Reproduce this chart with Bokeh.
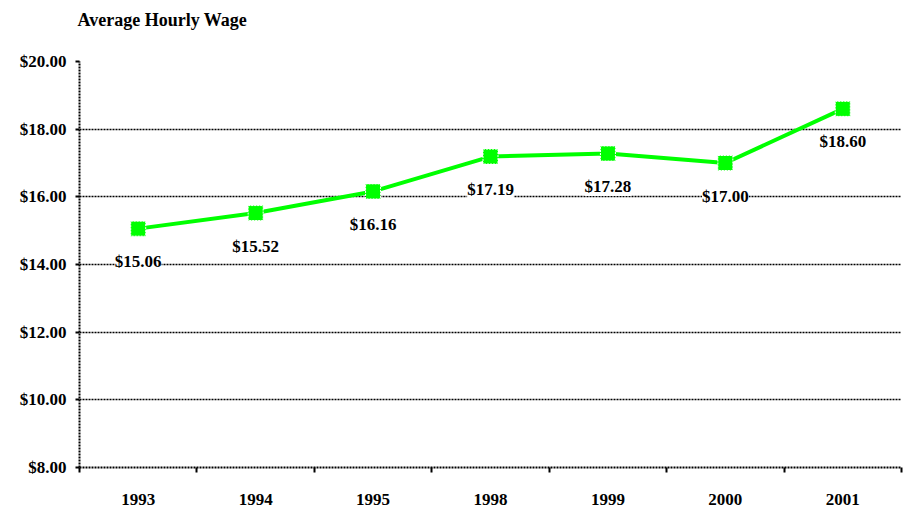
from bokeh.plotting import figure
from bokeh.models import (ColumnDataSource, FixedTicker, NumeralTickFormatter,
                          LabelSet, Range1d, Title)
from bokeh.embed import file_html
from bokeh.resources import INLINE

years = ["1993", "1994", "1995", "1998", "1999", "2000", "2001"]
wages = [15.06, 15.52, 16.16, 17.19, 17.28, 17.00, 18.60]
y_ticks = [8, 10, 12, 14, 16, 18, 20]
title_text = "Average Hourly Wage"

FONT = "Liberation Serif"
xs = list(range(1, len(years) + 1))
src = ColumnDataSource(dict(x=xs, y=wages, lab=["$%.2f" % w for w in wages]))

x_lo, x_hi = 0.5, len(years) + 0.5
y_lo, y_hi = min(y_ticks), max(y_ticks)

p = figure(width=905, height=507, output_backend="svg", toolbar_location=None,
           title=None,
           x_range=Range1d(x_lo, x_hi), y_range=Range1d(y_lo, y_hi),
           min_border_left=79, min_border_right=4, min_border_top=61, min_border_bottom=40)
p.outline_line_color = None
p.background_fill_color = "white"

# spacer between the plot frame and the title (nearest the frame)
spacer = Title(text=" ", text_font_size="1px", standoff=24)
p.add_layout(spacer, "above")
main_title = Title(text=title_text, text_font=FONT, text_font_size="18px",
                   text_font_style="bold", text_color="black", align="left",
                   offset=-2, standoff=10)
p.add_layout(main_title, "above")

# y axis
p.yaxis.ticker = FixedTicker(ticks=y_ticks)
p.yaxis.formatter = NumeralTickFormatter(format="$0.00")
p.yaxis.major_tick_in = 0
p.yaxis.major_tick_out = 4
p.yaxis.minor_tick_line_color = None
p.yaxis.axis_line_dash = "2 1"
p.yaxis.axis_line_width = 2
p.yaxis.major_tick_line_width = 2
p.yaxis.major_label_standoff = 9

# x axis
p.xaxis.ticker = FixedTicker(ticks=xs, minor_ticks=[i + 0.5 for i in range(0, len(years) + 1)])
p.xaxis.major_label_overrides = {i: y for i, y in zip(xs, years)}
p.xaxis.major_tick_in = 0
p.xaxis.major_tick_out = 0
p.xaxis.minor_tick_in = 0
p.xaxis.minor_tick_out = 5
p.xaxis.minor_tick_line_width = 2
p.xaxis.axis_line_dash = "2 1"
p.xaxis.axis_line_width = 2
p.xaxis.major_label_standoff = 21

for ax in (p.xaxis, p.yaxis):
    ax.major_label_text_font = FONT
    ax.major_label_text_font_size = "17px"
    ax.major_label_text_font_style = "bold"
    ax.major_label_text_color = "black"
    ax.axis_line_color = "black"

p.xgrid.grid_line_color = None
p.ygrid.grid_line_color = "black"
p.ygrid.grid_line_dash = "2 1"
p.ygrid.grid_line_width = 1.5

labels = LabelSet(x="x", y="y", text="lab", source=src, y_offset=-33,
                  text_align="center", text_baseline="middle",
                  text_font=FONT, text_font_size="17px", text_font_style="bold",
                  text_color="black", background_fill_color="white",
                  level="underlay")
p.add_layout(labels)

p.line("x", "y", source=src, line_color="#00ff00", line_width=4)
p.scatter("x", "y", source=src, marker="square", size=15, fill_color="#00ff00",
          line_color="white", line_width=1, line_dash="2 1")

open("out.html", "w").write(file_html(p, INLINE))
